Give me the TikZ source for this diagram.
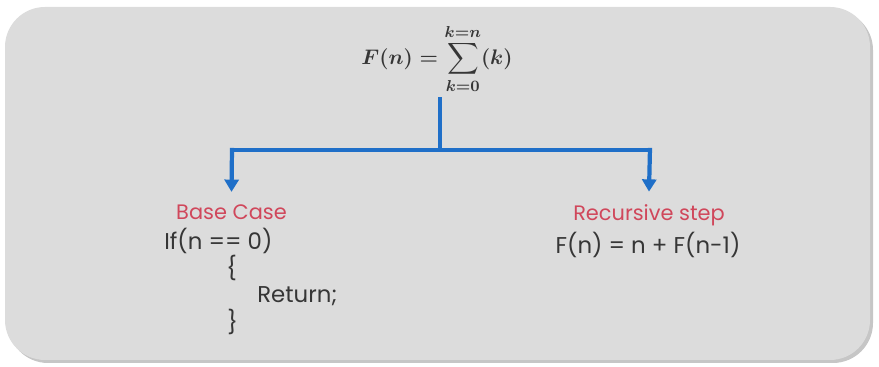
\documentclass[tikz,border=0pt]{standalone}
\usepackage{amsmath,amssymb}
\usepackage{fontspec}
\setmainfont{Poppins}
\usepackage{tikz}
\usetikzlibrary{arrows.meta, positioning, calc}
\usepackage{xcolor}
\definecolor{panelgray}{HTML}{DCDCDC}
\definecolor{flowblue}{HTML}{1F6FC8}
\definecolor{headred}{HTML}{D0475B}
\definecolor{codegray}{HTML}{363636}

\begin{document}
\begin{tikzpicture}[x=0.02cm, y=0.02cm,
    every node/.style={font=\fontsize{13}{15}\selectfont, text=codegray, inner sep=0pt},
    flow/.style={line width=2.4pt, flowblue},
    flowarrow/.style={flow, -{Triangle[width=8pt, length=7pt]}},
    heading/.style={text=headred, font=\fontsize{11.9}{14}\selectfont}]
  \useasboundingbox (0, 0) rectangle (879, 367);
  % panel
  \fill[gray!45, rounded corners=0.8cm] (8, 4) rectangle (873, 357);
  \fill[panelgray, rounded corners=0.8cm] (5, 7) rectangle (870, 360);
  \node[font=\fontsize{12.5}{14}\selectfont\boldmath] (formula) at (437, 308) {$F(n) = \displaystyle\sum_{k=0}^{k=n}(k)$};
  \coordinate (split) at (440, 217);
  \coordinate (leftTurn) at (232, 217);
  \coordinate (rightTurn) at (650, 217);
  \node[heading] (baseCase) at (231.5, 155) {Base Case};
  \node[heading] (recStep) at (649, 152) {Recursive step};
  \node[anchor=west] (ifLine) at (164, 126) {If(n == 0)};
  \node[anchor=west] (openBrace) at (226, 99) {\{};
  \node[anchor=west] (returnLine) at (257, 71) {Return;};
  \node[anchor=west] (closeBrace) at (227, 45) {\}};
  \node (recFormula) at (648, 122) {F(n) = n + F(n-1)};
  \draw[flow] ($(formula.south -| split)+(0,-3)$) -- (split);
  \draw[flow] (leftTurn) -- (rightTurn);
  \draw[flowarrow] ([yshift=1.2pt]leftTurn) -- ([yshift=7pt]baseCase.north);
  \draw[flowarrow] ([yshift=1.2pt]rightTurn) -- ([yshift=7pt]recStep.north);
\end{tikzpicture}
\end{document}
